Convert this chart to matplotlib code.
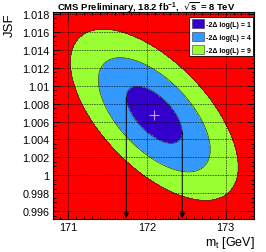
import numpy as np
import matplotlib
matplotlib.use("Agg")
import matplotlib.pyplot as plt
from matplotlib.patches import Patch
from matplotlib.ticker import MultipleLocator, FixedLocator

# ---- fit result ----
mt_best = 172.095
jsf_best = 1.00675
sigma_mt = 0.355
sigma_jsf = 0.00318
rho = -0.61
nll_levels = [1, 4, 9]
legend_labels = ["-2\u0394 log(L) = 1", "-2\u0394 log(L) = 4", "-2\u0394 log(L) = 9"]
x_ticks = [171, 172, 173]
y_ticks = [0.996, 0.998, 1.0, 1.002, 1.004, 1.006, 1.008, 1.01, 1.012, 1.014, 1.016, 1.018]
y_tick_labels = ["0.996", "0.998", "1", "1.002", "1.004", "1.006", "1.008", "1.01",
                 "1.012", "1.014", "1.016", "1.018"]
x_range = (170.81, 173.36)
y_range = (0.9952, 1.0182)

col_1 = "#3300cc"
col_4 = "#3399ff"
col_9 = "#99ff33"
col_out = "#ff0000"

plt.rcParams['font.family'] = ['Liberation Sans', 'DejaVu Sans']

fig = plt.figure(figsize=(2.66, 2.53), dpi=100)
ax = fig.add_axes([53/266, 1-219.5/253, 201/266, 206.5/253])

# likelihood grid
xs = np.linspace(x_range[0], x_range[1], 500)
ys = np.linspace(y_range[0], y_range[1], 500)
X, Y = np.meshgrid(xs, ys)
u = (X - mt_best) / sigma_mt
v = (Y - jsf_best) / sigma_jsf
Z = (u**2 - 2*rho*u*v + v**2) / (1 - rho**2)

ax.set_facecolor(col_out)
ax.contourf(X, Y, Z, levels=[0] + nll_levels + [1e9],
            colors=[col_1, col_4, col_9, col_out], zorder=1)
ax.contour(X, Y, Z, levels=nll_levels, colors="#333333", linewidths=0.5, zorder=2)

ax.set_xlim(*x_range)
ax.set_ylim(*y_range)

# grid
ax.grid(True, which='major', color='black', linestyle=(0, (1, 1.2)), linewidth=0.55, zorder=3)
ax.set_axisbelow(False)

# arrows from 1-sigma tangent points
for sgn in (-1, 1):
    xt = mt_best + sgn * sigma_mt
    yt = jsf_best + sgn * rho * sigma_jsf
    ax.annotate('', xy=(xt, y_range[0]), xytext=(xt, yt),
                arrowprops=dict(arrowstyle='-|>', color='black', lw=0.7,
                                mutation_scale=8, shrinkA=0, shrinkB=0),
                zorder=5)

# best-fit cross
ax.plot([mt_best], [jsf_best], marker='+', color='#b9a0ff', markersize=7,
        markeredgewidth=0.8, zorder=6)

# ticks
ax.xaxis.set_major_locator(FixedLocator(x_ticks))
ax.xaxis.set_minor_locator(MultipleLocator(0.1))
ax.yaxis.set_major_locator(FixedLocator(y_ticks))
ax.yaxis.set_minor_locator(MultipleLocator(0.0005))
ax.set_yticklabels(y_tick_labels)
ax.set_xticklabels([str(t) for t in x_ticks])
ax.tick_params(which='both', direction='in', top=True, right=True, labelsize=7.8, width=0.6)
ax.tick_params(which='major', length=5, pad=2.5)
ax.tick_params(which='minor', length=2.5)
for s in ax.spines.values():
    s.set_linewidth(0.8)

# labels
fig.text(10/266, 1-25/253, "JSF", rotation=90, ha='center', va='center', fontsize=9.5)
fig.text(255/266, 1-243/253, r"m$_\mathregular{t}$ [GeV]", ha='right', va='center', fontsize=9)
fig.text(57/266, 1-7.5/253, r"CMS Preliminary, 18.2 fb$^\mathregular{-1}$,  $\sqrt{\mathregular{s}}$ = 8 TeV",
         ha='left', va='center', fontsize=6.8, fontweight='bold')

handles = [Patch(facecolor=c, edgecolor='#333333', linewidth=0.4) for c in (col_1, col_4, col_9)]
leg = ax.legend(handles, legend_labels, loc='upper right', bbox_to_anchor=(0.997, 0.976),
                borderaxespad=0, fancybox=False, framealpha=1, edgecolor='black',
                prop={'size': 5, 'weight': 'bold'}, handlelength=1.7, handleheight=1.6,
                labelspacing=0.55, borderpad=0.35, handletextpad=0.35)
leg.get_frame().set_linewidth(0.6)
leg.set_zorder(10)

fig.savefig("out.png", dpi=100)
